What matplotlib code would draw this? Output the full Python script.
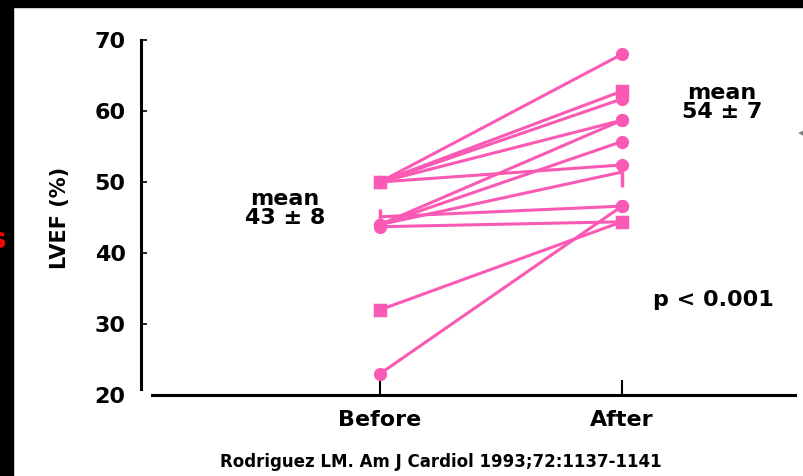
import matplotlib
matplotlib.use("Agg")
import matplotlib.pyplot as plt
from matplotlib.patches import Rectangle

# LVEF (%) per patient, before and after
before = [50, 50, 50, 50, 50, 44, 44, 44, 45.1, 43.7, 32, 23]
after = [68, 62.8, 61.7, 58.7, 52.4, 58.7, 55.7, 51.4, 46.6, 44.4, 44.4, 46.6]
markers_before = ["o", "s", "o", "o", "o", "o", "o", "o", "|", "o", "s", "o"]
markers_after = ["o", "s", "o", "o", "o", "o", "o", 3, "o", "o", "s", "o"]

groups = ["Before", "After"]
yticks = [20, 30, 40, 50, 60, 70]
citation = "Rodriguez LM. Am J Cardiol 1993;72:1137-1141"

pink = "#fa5ab4"

plt.rcParams["font.family"] = "DejaVu Sans"
plt.rcParams["font.weight"] = "bold"

fig = plt.figure(figsize=(8.04, 4.76), dpi=100)
fig.patch.set_facecolor("white")

# black border remnants from the slide
fig.patches.append(Rectangle((0, 1 - 7 / 476), 1, 7 / 476, transform=fig.transFigure,
                             color="black", zorder=0))
fig.patches.append(Rectangle((0, 0), 13 / 804, 1, transform=fig.transFigure,
                             color="black", zorder=0))
fig.text(-10 / 804, 1 - 240 / 476, "s", color="red", fontsize=20, fontweight="bold",
         ha="left", va="center")
fig.text(1.0, 1 - 133 / 476, "\u25c2", color="gray", fontsize=8, ha="right", va="center")

ax = fig.add_axes([141 / 804, 81 / 476, 654 / 804, 355 / 476])

xb, xa = 0, 1
for b, a, mb, ma in zip(before, after, markers_before, markers_after):
    ax.plot([xb, xa], [b, a], color=pink, lw=2.2, solid_capstyle="round", zorder=2)
    ax.plot([xb], [b], marker=mb, color=pink, ms=7 if mb != "|" else 11, mew=2.5,
            ls="none", zorder=3)
    ax.plot([xa], [a], marker=ma, color=pink, ms=7 if ma != 3 else 11, mew=2.5,
            ls="none", zorder=3)

ax.set_xlim(-0.988, 1.715)
ax.set_ylim(20, 70)

ax.spines["top"].set_visible(False)
ax.spines["right"].set_visible(False)
ax.spines["left"].set_linewidth(2.2)
ax.spines["bottom"].set_linewidth(2.2)
ax.spines["left"].set_bounds(20.8, 70)
ax.spines["bottom"].set_bounds(-0.942, 1.715)

ax.set_yticks(yticks)
ax.set_yticklabels([str(t) for t in yticks], fontsize=16, fontweight="bold")
ax.set_xticks([xb, xa])
ax.set_xticklabels(groups, fontsize=16, fontweight="bold")
ax.tick_params(axis="y", direction="in", length=4, width=1.2, pad=11)
ax.tick_params(axis="x", direction="in", length=11, width=1.5, pad=11)
# no tick mark at the bottom of the y axis
ax.yaxis.get_major_ticks()[0].tick1line.set_visible(False)

ax.set_ylabel("LVEF (%)", fontsize=15, fontweight="bold", labelpad=18)

ax.text(-0.393, 46.3, "mean\n43 \u00b1 8", ha="center", va="center", fontsize=16,
        fontweight="bold", linespacing=0.95)
ax.text(1.413, 61.2, "mean\n54 \u00b1 7", ha="center", va="center", fontsize=16,
        fontweight="bold", linespacing=0.95)
ax.text(1.376, 33.4, "p < 0.001", ha="center", va="center", fontsize=16,
        fontweight="bold")

fig.text(441 / 804, 1 - 462 / 476, citation, ha="center", va="center", fontsize=12,
         fontweight="bold")

fig.savefig("out.png", dpi=100)
